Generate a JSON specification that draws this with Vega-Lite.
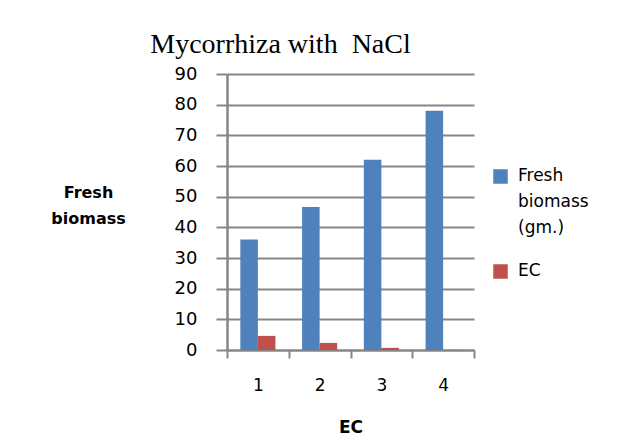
{
  "$schema": "https://vega.github.io/schema/vega-lite/v6.json",
  "width": 247,
  "height": 276,
  "autosize": "none",
  "padding": {"left": 227, "top": 74, "right": 149, "bottom": 88},
  "background": "white",
  "title": {
    "text": "Mycorrhiza with\u00a0 NaCl",
    "font": "Liberation Serif",
    "fontSize": 28,
    "fontWeight": "normal",
    "color": "black",
    "anchor": "middle",
    "dx": -70,
    "offset": 6
  },
  "data": {
    "values": [
      {"ec": "1", "series": "Fresh biomass (gm.)", "value": 36},
      {"ec": "1", "series": "EC", "value": 4.6},
      {"ec": "2", "series": "Fresh biomass (gm.)", "value": 46.6},
      {"ec": "2", "series": "EC", "value": 2.3},
      {"ec": "3", "series": "Fresh biomass (gm.)", "value": 62},
      {"ec": "3", "series": "EC", "value": 0.7},
      {"ec": "4", "series": "Fresh biomass (gm.)", "value": 78},
      {"ec": "4", "series": "EC", "value": 0.05}
    ]
  },
  "mark": {"type": "bar"},
  "encoding": {
    "x": {
      "field": "ec",
      "type": "nominal",
      "scale": {"paddingInner": 0, "paddingOuter": 0},
      "axis": {
        "title": "EC",
        "titleFont": "DejaVu Sans",
        "titleFontSize": 17,
        "titleFontWeight": "bold",
        "titleColor": "black",
        "titlePadding": 26,
        "labelAngle": 0,
        "labelFont": "DejaVu Sans",
        "labelFontSize": 17,
        "labelColor": "black",
        "labelPadding": 19,
        "tickBand": "extent",
        "tickSize": 8,
        "tickWidth": 2,
        "tickColor": "#868686",
        "domainColor": "#868686",
        "domainWidth": 2
      }
    },
    "xOffset": {
      "field": "series",
      "type": "nominal",
      "sort": ["Fresh biomass (gm.)", "EC"],
      "scale": {"paddingInner": 0, "paddingOuter": 0.76}
    },
    "y": {
      "field": "value",
      "type": "quantitative",
      "scale": {"domain": [0, 90], "nice": false},
      "axis": {
        "values": [0, 10, 20, 30, 40, 50, 60, 70, 80, 90],
        "title": ["Fresh", "biomass"],
        "titleAngle": 0,
        "titleX": -139,
        "titleY": 118,
        "titleAlign": "center",
        "titleBaseline": "middle",
        "titleLineHeight": 26,
        "titleFont": "DejaVu Sans",
        "titleFontSize": 16,
        "titleFontWeight": "bold",
        "titleColor": "black",
        "labelFont": "DejaVu Sans",
        "labelFontSize": 18,
        "labelColor": "black",
        "labelPadding": 19,
        "tickSize": 11,
        "tickWidth": 2,
        "tickColor": "#868686",
        "grid": true,
        "gridColor": "#868686",
        "gridWidth": 2,
        "domainColor": "#868686",
        "domainWidth": 2.5
      }
    },
    "color": {
      "field": "series",
      "type": "nominal",
      "sort": ["Fresh biomass (gm.)", "EC"],
      "scale": {"domain": ["Fresh biomass (gm.)", "EC"], "range": ["#4F81BD", "#C0504D"]},
      "legend": {
        "title": null,
        "orient": "none",
        "legendX": 265,
        "legendY": 94,
        "symbolType": "square",
        "symbolSize": 210,
        "symbolStrokeWidth": 0,
        "symbolOpacity": 1,
        "labelFont": "DejaVu Sans",
        "labelFontSize": 17,
        "labelColor": "black",
        "labelOffset": 9,
        "labelLimit": 200,
        "labelBaseline": "top",
        "labelExpr": "datum.label == 'EC' ? 'EC' : ['Fresh', 'biomass', '(gm.)']",
        "rowPadding": 25,
        "encode": {
          "labels": {"update": {"lineHeight": {"value": 26}, "dy": {"value": -9}}}
        }
      }
    }
  },
  "config": {
    "view": {"stroke": null}
  }
}
